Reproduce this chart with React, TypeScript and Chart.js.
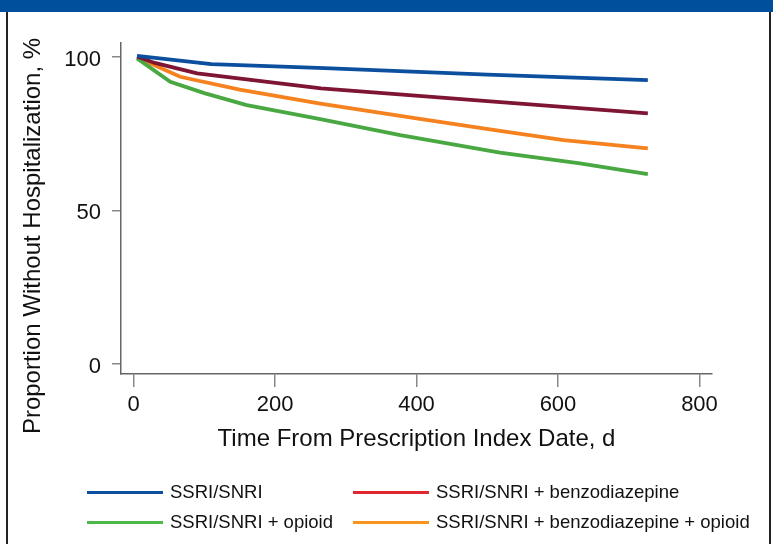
import React, { useEffect, useRef } from "react";
import { Chart, registerables } from "chart.js";

Chart.register(...registerables);

const FONT = "'Liberation Sans', Arial, Helvetica, sans-serif";

const seriesNames = [
  "SSRI/SNRI",
  "SSRI/SNRI + benzodiazepine",
  "SSRI/SNRI + opioid",
  "SSRI/SNRI + benzodiazepine + opioid",
];

const ssriDays = [5, 110, 270, 500, 727];
const ssriVals = [100.3, 97.6, 96.3, 94.2, 92.4];

const benzoDays = [5, 30, 90, 265, 500, 727];
const benzoVals = [100.1, 98.0, 94.6, 89.7, 85.6, 81.6];

const opioidDays = [5, 52, 100, 160, 264, 377, 518, 631, 727];
const opioidVals = [99.5, 91.9, 88.2, 84.3, 79.7, 74.5, 68.8, 65.3, 61.8];

const bothDays = [5, 66, 150, 264, 400, 518, 608, 727];
const bothVals = [99.8, 93.5, 89.3, 84.8, 80.0, 75.9, 72.9, 70.2];

const xTicks = [0, 200, 400, 600, 800];
const yTicks = [0, 50, 100];

const lineColors = ["#0b4f9e", "#7d1533", "#4aa843", "#f5821f"];
const legendColors = ["#0b4f9e", "#e0262f", "#4cb848", "#f7941d"];

const xTitle = "Time From Prescription Index Date, d";
const yTitle = "Proportion Without Hospitalization, %";

function pts(xs: number[], ys: number[]) {
  return xs.map((x, i) => ({ x, y: ys[i] }));
}

export default function App() {
  const ref = useRef<HTMLCanvasElement | null>(null);

  useEffect(() => {
    if (!ref.current) return;
    const yTitlePlugin = {
      id: "yTitlePlugin",
      afterDraw(chart: any) {
        const ctx = chart.ctx;
        ctx.save();
        ctx.translate(33, 236);
        ctx.rotate(-Math.PI / 2);
        ctx.font = `24px ${FONT}`;
        ctx.fillStyle = "#111";
        ctx.textAlign = "center";
        ctx.textBaseline = "middle";
        ctx.fillText(yTitle, 0, 0);
        ctx.restore();
      },
    };
    const datasets = [
      { label: seriesNames[0], data: pts(ssriDays, ssriVals), borderColor: lineColors[0] },
      { label: seriesNames[1], data: pts(benzoDays, benzoVals), borderColor: lineColors[1] },
      { label: seriesNames[2], data: pts(opioidDays, opioidVals), borderColor: lineColors[2] },
      { label: seriesNames[3], data: pts(bothDays, bothVals), borderColor: lineColors[3] },
    ].map((d) => ({
      ...d,
      borderWidth: 3.8,
      pointRadius: 0,
      tension: 0,
      fill: false,
      borderCapStyle: "butt" as const,
    }));

    const chart = new Chart(ref.current, {
      type: "line",
      data: { datasets },
      plugins: [yTitlePlugin],
      options: {
        animation: false,
        responsive: false,
        events: [],
        layout: { padding: { left: 0, top: 43, right: 61, bottom: 80 } },
        plugins: { legend: { display: false }, tooltip: { enabled: false } },
        scales: {
          x: {
            type: "linear",
            min: -17.7,
            max: 817.7,
            afterBuildTicks: (s: any) => {
              s.ticks = xTicks.map((v) => ({ value: v }));
            },
            afterFit: (s: any) => {
              s.height = 90;
            },
            border: { display: true, color: "#666", width: 1.5 },
            grid: { drawOnChartArea: false, drawTicks: true, tickLength: 13, color: "#888", lineWidth: 1.5 },
            ticks: { color: "#111", font: { family: FONT, size: 22 }, padding: 5, maxRotation: 0, autoSkip: false },
            title: { display: true, text: xTitle, color: "#111", font: { family: FONT, size: 24 }, padding: { top: 0, bottom: 10 } },
          },
          y: {
            type: "linear",
            min: -3.25,
            max: 104.5,
            afterBuildTicks: (s: any) => {
              s.ticks = yTicks.map((v) => ({ value: v }));
            },
            afterFit: (s: any) => {
              s.width = 121;
            },
            border: { display: true, color: "#666", width: 1.5 },
            grid: { drawOnChartArea: false, drawTicks: true, tickLength: 9, color: "#888", lineWidth: 1.5 },
            ticks: { color: "#111", font: { family: FONT, size: 22 }, padding: 11, labelOffset: 3 },
          },
        },
      },
    });
    return () => chart.destroy();
  }, []);

  const legendItems = [
    { name: seriesNames[0], color: legendColors[0], lx: 87, tx: 170, y: 492 },
    { name: seriesNames[1], color: legendColors[1], lx: 353, tx: 436, y: 492 },
    { name: seriesNames[2], color: legendColors[2], lx: 87, tx: 170, y: 522 },
    { name: seriesNames[3], color: legendColors[3], lx: 353, tx: 436, y: 522 },
  ];

  return (
    <div
      style={{
        position: "fixed",
        left: 0,
        top: 0,
        width: 773,
        height: 544,
        background: "#fff",
        overflow: "hidden",
        fontFamily: FONT,
      }}
    >
      <canvas ref={ref} width={773} height={544} style={{ position: "absolute", left: 0, top: 0 }} />
      <div style={{ position: "absolute", left: 0, top: 0, width: 773, height: 12, background: "#004f9c" }} />
      <div style={{ position: "absolute", left: 6, top: 12, width: 2, height: 532, background: "#222" }} />
      <div style={{ position: "absolute", left: 769, top: 12, width: 2, height: 532, background: "#222" }} />
      {legendItems.map((it) => (
        <React.Fragment key={it.name}>
          <div
            style={{
              position: "absolute",
              left: it.lx,
              top: it.y - 1.5,
              width: 76,
              height: 3,
              background: it.color,
            }}
          />
          <div
            style={{
              position: "absolute",
              left: it.tx,
              top: it.y - 12,
              height: 24,
              lineHeight: "24px",
              fontSize: 18.5,
              color: "#111",
              whiteSpace: "nowrap",
            }}
          >
            {it.name}
          </div>
        </React.Fragment>
      ))}
    </div>
  );
}
